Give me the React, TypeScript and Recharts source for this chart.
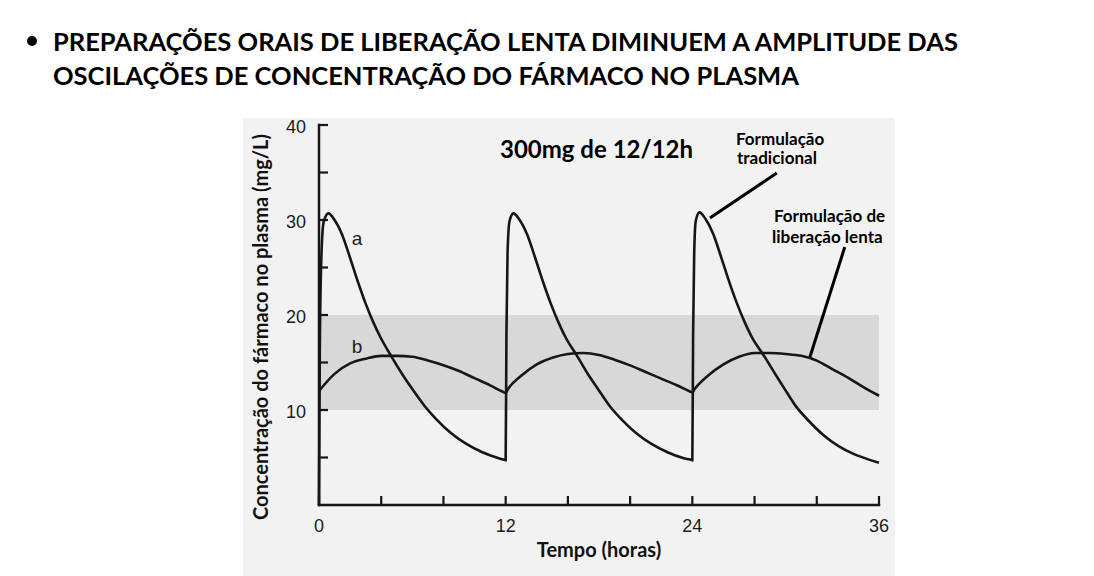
import { LineChart, Line, XAxis, YAxis, ReferenceArea, ReferenceLine } from "recharts";

// tick values
const xTicks = [0, 4, 8, 12, 16, 20, 24, 28, 32, 36];
const yTicks = [0, 5, 10, 15, 20, 25, 30, 35, 40];
const xLabeled = [0, 12, 24, 36];
const yLabeled = [10, 20, 30, 40];

// curve a - formulação tradicional (300mg every 12h)
const tradHours = [
  0, 0.05, 0.15, 0.3, 0.6, 1.0, 1.5, 2.0, 2.5, 3.0, 3.5, 4.0, 4.67, 5.5, 6.0, 6.8, 7.5, 8.5, 9.5, 10.5, 11.5, 11.85, 12.0,
  12.05, 12.12, 12.25, 12.5, 12.9, 13.4, 13.9, 14.4, 14.9, 15.4, 15.9, 16.55, 17.4, 17.9, 18.7, 19.4, 20.4, 21.4, 22.4, 23.4, 23.85, 24.0,
  24.05, 24.12, 24.22, 24.46, 24.85, 25.35, 25.85, 26.35, 26.85, 27.35, 27.85, 28.53, 29.4, 29.9, 30.7, 31.4, 32.4, 33.4, 34.4, 35.4, 36.0,
];
const tradConc = [
  0, 16, 26, 29.8, 30.7, 30.0, 28.4, 26.0, 23.5, 21.2, 19.2, 17.5, 15.6, 13.4, 12.2, 10.4, 9.1, 7.55, 6.4, 5.55, 4.95, 4.78, 4.72,
  18, 26.5, 29.9, 30.7, 30.0, 28.4, 26.0, 23.5, 21.2, 19.2, 17.5, 15.8, 13.5, 12.3, 10.4, 9.1, 7.55, 6.4, 5.55, 4.95, 4.78, 4.72,
  18, 26.5, 29.9, 30.8, 30.1, 28.5, 26.1, 23.6, 21.3, 19.3, 17.6, 15.9, 13.6, 12.3, 10.3, 9.0, 7.4, 6.2, 5.35, 4.75, 4.45,
];

// curve b - liberação lenta
const slowHours = [
  0, 1, 2, 3, 4, 5, 6, 7, 8, 9, 10, 11, 11.85, 12, 12.15,
  13, 14, 15, 16, 17, 18, 19, 20, 21, 22, 23, 23.85, 24, 24.15,
  25, 26, 27, 28, 29, 30, 31, 32, 33, 34, 35, 36,
];
const slowConc = [
  12.0, 13.8, 14.9, 15.4, 15.7, 15.7, 15.6, 15.2, 14.7, 14.1, 13.35, 12.6, 11.9, 11.8, 12.2,
  13.6, 14.8, 15.5, 15.9, 16.0, 15.8, 15.3, 14.7, 14.0, 13.3, 12.6, 11.95, 11.85, 12.2,
  13.6, 14.8, 15.6, 16.0, 16.0, 15.9, 15.7, 15.2, 14.3, 13.4, 12.4, 11.5,
];

// therapeutic window
const bandLow = 10;
const bandHigh = 20;

const tradData = tradHours.map((t, i) => ({ t, c: tradConc[i] }));
const slowData = slowHours.map((t, i) => ({ t, c: slowConc[i] }));

const ink = "#161616";
const slideFont = "Lato, 'Open Sans', sans-serif";
const scanFont = "'Liberation Sans', Arial, sans-serif";

const XTick = ({ x, y, payload }: any) => (
  <g>
    <line x1={x} y1={y} x2={x} y2={y - 9} stroke={ink} strokeWidth={2.2} />
    {xLabeled.includes(payload.value) && (
      <text x={x} y={y + 21} textAnchor="middle" dominantBaseline="central" fontFamily={scanFont} fontSize={18} fill="#1c1c1c">
        {payload.value}
      </text>
    )}
  </g>
);

const YTick = ({ x, y, payload }: any) => (
  <g>
    {payload.value > 0 && <line x1={x} y1={y} x2={x + 9} y2={y} stroke={ink} strokeWidth={2.2} />}
    {yLabeled.includes(payload.value) && (
      <text x={x - 13} y={y + 2} textAnchor="end" dominantBaseline="central" fontFamily={scanFont} fontSize={18} fill="#1c1c1c">
        {payload.value}
      </text>
    )}
  </g>
);

const yTitle = ({ viewBox }: any) => {
  const cx = viewBox.x + 29;
  const cy = viewBox.y + viewBox.height / 2 + 12;
  return (
    <text x={cx} y={cy} transform={`rotate(-90 ${cx} ${cy})`} textAnchor="middle" fontFamily={slideFont} fontWeight={700} fontSize={20} fill="#111">
      Concentração do fármaco no plasma (mg/L)
    </text>
  );
};

const xTitle = ({ viewBox }: any) => (
  <text x={viewBox.x + viewBox.width / 2} y={viewBox.y + 52} textAnchor="middle" fontFamily={slideFont} fontWeight={700} fontSize={20} fill="#111">
    Tempo (horas)
  </text>
);

export default function App() {
  return (
    <div style={{ position: "absolute", left: 0, top: 0, width: 1094, height: 576, background: "#fff", overflow: "hidden" }}>
      {/* slide title */}
      <div style={{ position: "absolute", left: 27, top: 36, width: 10, height: 10, borderRadius: "50%", background: "#000" }} />
      <div
        style={{
          position: "absolute",
          left: 53,
          top: 25,
          fontFamily: slideFont,
          fontWeight: 700,
          fontSize: 25.5,
          lineHeight: "33.5px",
          color: "#000",
          whiteSpace: "nowrap",
        }}
      >
        PREPARAÇÕES ORAIS DE LIBERAÇÃO LENTA DIMINUEM A AMPLITUDE DAS
        <br />
        OSCILAÇÕES DE CONCENTRAÇÃO DO FÁRMACO NO PLASMA
      </div>

      {/* scanned figure background */}
      <div style={{ position: "absolute", left: 243, top: 118, width: 652, height: 458, background: "#f2f2f2" }} />

      <div style={{ position: "absolute", left: 0, top: 0 }}>
        <LineChart width={1094} height={576} margin={{ top: 125, right: 215, bottom: 14, left: 239 }}>
          <ReferenceArea x1={0} x2={36} y1={bandLow} y2={bandHigh} fill="#d8d8d8" fillOpacity={1} stroke="none" />
          <XAxis
            dataKey="t"
            type="number"
            domain={[0, 36]}
            ticks={xTicks}
            interval={0}
            height={57}
            tickSize={0}
            tickMargin={0}
            tickLine={false}
            tick={<XTick />}
            axisLine={{ stroke: ink, strokeWidth: 2.5, strokeLinecap: "square" }}
            label={xTitle}
          />
          <YAxis
            type="number"
            domain={[0, 40]}
            ticks={yTicks}
            interval={0}
            width={80}
            tickSize={0}
            tickMargin={0}
            tickLine={false}
            tick={<YTick />}
            axisLine={{ stroke: ink, strokeWidth: 2.5, strokeLinecap: "square" }}
            label={yTitle}
          />
          <Line data={slowData} dataKey="c" type="monotone" stroke={ink} strokeWidth={2.6} dot={false} activeDot={false} isAnimationActive={false} />
          <Line data={tradData} dataKey="c" type="monotone" stroke={ink} strokeWidth={2.6} dot={false} activeDot={false} isAnimationActive={false} />
          <ReferenceLine segment={[{ x: 29.43, y: 34.95 }, { x: 25.13, y: 30.2 }]} stroke="#000" strokeWidth={3} />
          <ReferenceLine segment={[{ x: 33.8, y: 27.16 }, { x: 31.56, y: 15.58 }]} stroke="#000" strokeWidth={3} />
        </LineChart>
      </div>

      {/* annotations */}
      <svg width={1094} height={576} style={{ position: "absolute", left: 0, top: 0, pointerEvents: "none" }}>
        <text x={357} y={245} textAnchor="middle" fontFamily={scanFont} fontSize={19} fill="#1c1c1c">a</text>
        <text x={357} y={353} textAnchor="middle" fontFamily={scanFont} fontSize={19} fill="#1c1c1c">b</text>
        <text x={500} y={158} fontFamily={slideFont} fontWeight={700} fontSize={24} fill="#000">300mg de 12/12h</text>
        <text fontFamily={slideFont} fontWeight={700} fontSize={17} fill="#000">
          <tspan x={736} y={145}>Formulação</tspan>
          <tspan x={737} y={164}>tradicional</tspan>
        </text>
        <text fontFamily={slideFont} fontWeight={700} fontSize={17} fill="#000">
          <tspan x={774} y={222}>Formulação de</tspan>
          <tspan x={772} y={243}>liberação lenta</tspan>
        </text>
      </svg>
    </div>
  );
}
